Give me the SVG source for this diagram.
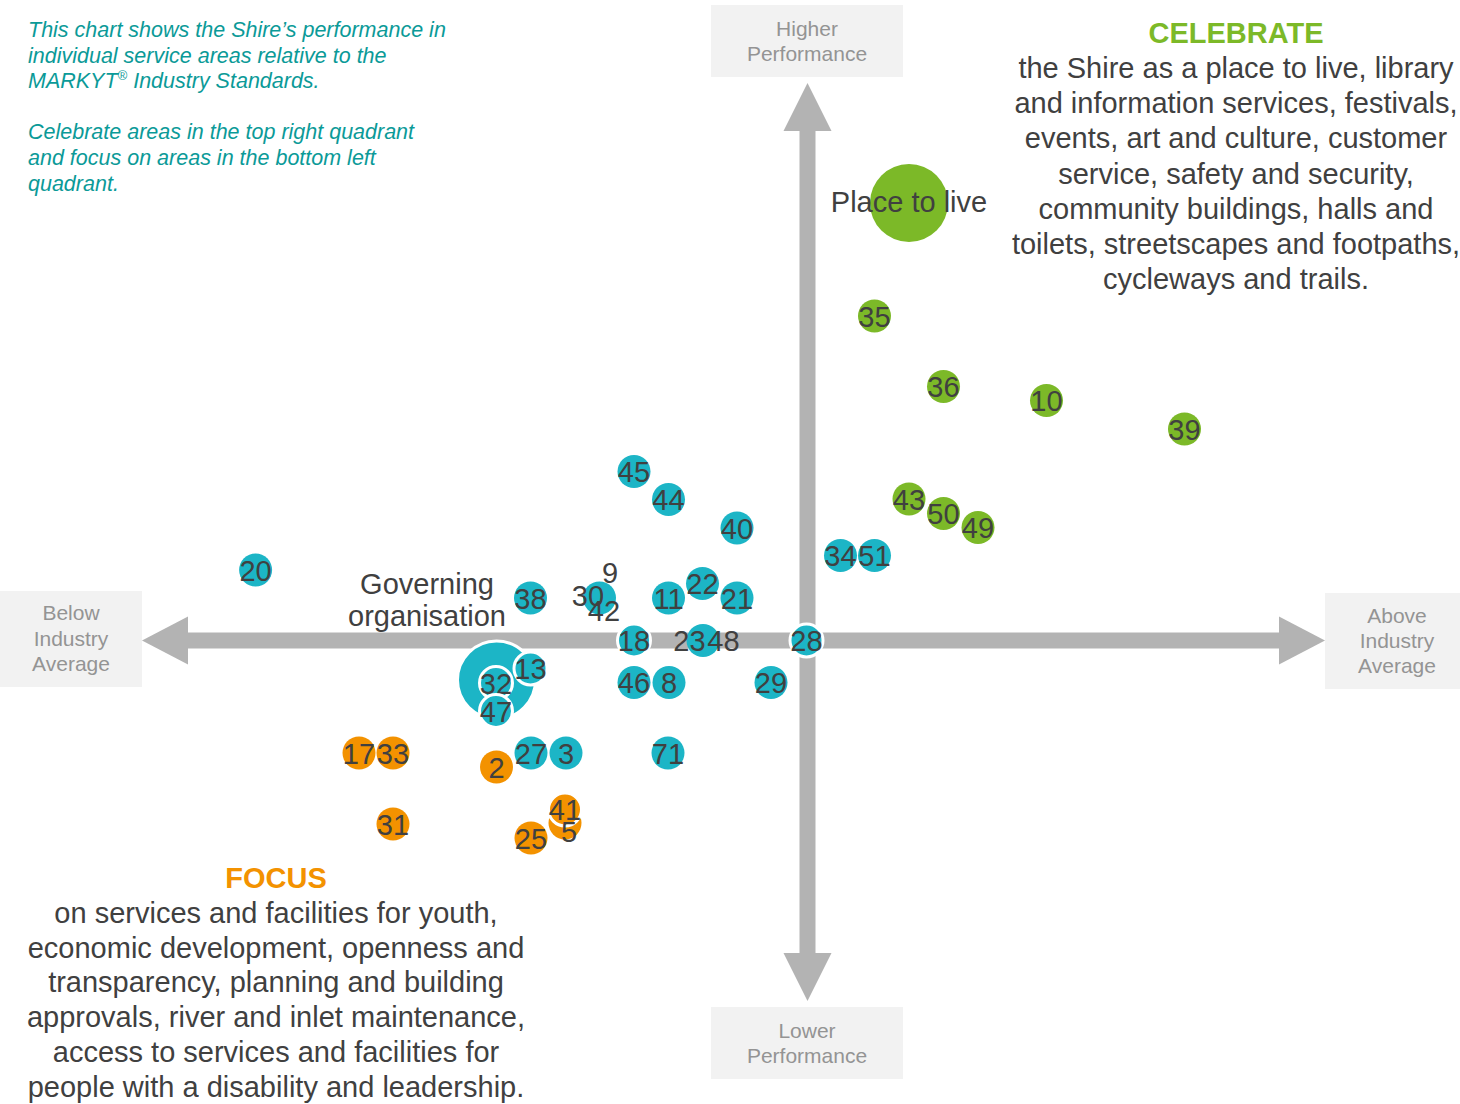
<svg xmlns="http://www.w3.org/2000/svg" width="1460" height="1104" viewBox="0 0 1460 1104">
<style>
text{font-family:"Liberation Sans",Arial,sans-serif}
.intro{font-size:21.5px;font-style:italic;fill:#0B9A98}
.box{fill:#F2F2F2}
.boxt{font-size:21px;fill:#949494;text-anchor:middle}
.ax{fill:#B3B3B3}
.b{fill:#1CB5C6}
.g{fill:#7CB928}
.o{fill:#F39200}
.w{stroke:#FFFFFF;stroke-width:3}
.n{font-size:29px;fill:#404040;text-anchor:middle}
.body{font-size:29px;fill:#404040;text-anchor:middle}
.hg{font-size:29px;font-weight:bold;fill:#7CB928;text-anchor:middle}
.ho{font-size:29px;font-weight:bold;fill:#F39200;text-anchor:middle}
</style>
<rect width="1460" height="1104" fill="#FFFFFF"/>
<g id="intro">
<text class="intro" x="28" y="37">This chart shows the Shire’s performance in</text>
<text class="intro" x="28" y="63">individual service areas relative to the</text>
<text class="intro" x="28" y="88">MARKYT<tspan font-size="13" dy="-8">®</tspan><tspan dy="8"> Industry Standards.</tspan></text>
<text class="intro" x="28" y="139">Celebrate areas in the top right quadrant</text>
<text class="intro" x="28" y="165">and focus on areas in the bottom left</text>
<text class="intro" x="28" y="191">quadrant.</text>
</g>
<g id="connectors">
<rect class="ax" x="799.5" y="130" width="16" height="824"/>
<rect class="ax" x="187" y="632.5" width="1093" height="16"/>
<polygon class="ax" points="807.5,83 831.5,131 783.5,131"/>
<polygon class="ax" points="807.5,1001 831.5,953 783.5,953"/>
<polygon class="ax" points="142,640.5 188,616.5 188,664.5"/>
<polygon class="ax" points="1325,640.5 1279,616.5 1279,664.5"/>
</g>
<g id="higher">
<rect class="box" x="711" y="5" width="192" height="72"/>
<text class="boxt" x="807" y="36">Higher</text>
<text class="boxt" x="807" y="61">Performance</text>
</g>
<g id="lower">
<rect class="box" x="711" y="1007" width="192" height="72"/>
<text class="boxt" x="807" y="1038">Lower</text>
<text class="boxt" x="807" y="1063">Performance</text>
</g>
<g id="below">
<rect class="box" x="0" y="591" width="142" height="96"/>
<text class="boxt" x="71" y="620">Below</text>
<text class="boxt" x="71" y="646">Industry</text>
<text class="boxt" x="71" y="671">Average</text>
</g>
<g id="above">
<rect class="box" x="1325" y="593" width="135" height="96"/>
<text class="boxt" x="1397" y="623">Above</text>
<text class="boxt" x="1397" y="648">Industry</text>
<text class="boxt" x="1397" y="673">Average</text>
</g>
<g id="celebrate">
<text class="hg" x="1236" y="43">CELEBRATE</text>
<text class="body" x="1236" y="78">the Shire as a place to live, library</text>
<text class="body" x="1236" y="113">and information services, festivals,</text>
<text class="body" x="1236" y="148">events, art and culture, customer</text>
<text class="body" x="1236" y="184">service, safety and security,</text>
<text class="body" x="1236" y="219">community buildings, halls and</text>
<text class="body" x="1236" y="254">toilets, streetscapes and footpaths,</text>
<text class="body" x="1236" y="289">cycleways and trails.</text>
</g>
<g id="focus">
<text class="ho" x="276" y="888">FOCUS</text>
<text class="body" x="276" y="923">on services and facilities for youth,</text>
<text class="body" x="276" y="958">economic development, openness and</text>
<text class="body" x="276" y="992">transparency, planning and building</text>
<text class="body" x="276" y="1027">approvals, river and inlet maintenance,</text>
<text class="body" x="276" y="1062">access to services and facilities for</text>
<text class="body" x="276" y="1097">people with a disability and leadership.</text>
</g>
<g id="place-to-live">
<circle class="g" cx="909" cy="203" r="39"/>
<text class="body" x="909" y="212">Place to live</text>
</g>
<g id="governing-organisation">
<circle class="b w" cx="496.5" cy="680" r="39"/>
<text class="body" x="427" y="594">Governing</text>
<text class="body" x="427" y="626">organisation</text>
</g>
<g id="points-green">
<g id="p35"><circle class="g" cx="874.5" cy="316" r="16.5"/><text class="n" x="874.5" y="326.5">35</text></g>
<g id="p36"><circle class="g" cx="943.5" cy="386.5" r="16.5"/><text class="n" x="943.5" y="397">36</text></g>
<g id="p10"><circle class="g" cx="1046.5" cy="400.5" r="16.5"/><text class="n" x="1046.5" y="411">10</text></g>
<g id="p39"><circle class="g" cx="1184.5" cy="429" r="16.5"/><text class="n" x="1184.5" y="439.5">39</text></g>
<g id="p43"><circle class="g" cx="909" cy="499" r="16.5"/><text class="n" x="909" y="509.5">43</text></g>
<g id="p50"><circle class="g" cx="943.5" cy="513.5" r="16.5"/><text class="n" x="943.5" y="524">50</text></g>
<g id="p49"><circle class="g" cx="978" cy="527.5" r="16.5"/><text class="n" x="978" y="538">49</text></g>
</g>
<g id="points-blue">
<g id="p20"><circle class="b" cx="255.6" cy="570" r="16.5"/><text class="n" x="255.6" y="580.5">20</text></g>
<g id="p38"><circle class="b" cx="530.5" cy="598" r="16.5"/><text class="n" x="530.5" y="608.5">38</text></g>
<g id="p30"><circle class="b" cx="599.5" cy="598" r="16.5"/><text class="n" x="588" y="606">30</text><text class="n" x="610" y="583">9</text><text class="n" x="604" y="621">42</text></g>
<g id="p45"><circle class="b" cx="634" cy="471.5" r="16.5"/><text class="n" x="634" y="482">45</text></g>
<g id="p44"><circle class="b" cx="668.5" cy="499.5" r="16.5"/><text class="n" x="668.5" y="510">44</text></g>
<g id="p40"><circle class="b" cx="737" cy="528" r="16.5"/><text class="n" x="737" y="538.5">40</text></g>
<g id="p34"><circle class="b" cx="840.5" cy="555.5" r="16.5"/><text class="n" x="840.5" y="566">34</text></g>
<g id="p51"><circle class="b" cx="874.5" cy="555.5" r="16.5"/><text class="n" x="874.5" y="566">51</text></g>
<g id="p11"><circle class="b" cx="668.5" cy="598" r="16.5"/><text class="n" x="668.5" y="608.5">11</text></g>
<g id="p22"><circle class="b" cx="702.5" cy="583.5" r="16.5"/><text class="n" x="702.5" y="594">22</text></g>
<g id="p21"><circle class="b" cx="737" cy="598" r="16.5"/><text class="n" x="737" y="608.5">21</text></g>
<g id="p18"><circle class="b w" cx="634" cy="640.5" r="16.5"/><text class="n" x="634" y="651">18</text></g>
<g id="p23"><circle class="b" cx="703" cy="640.5" r="16.5"/><text class="n" x="689.5" y="651">23</text><text class="n" x="723.5" y="651">48</text></g>
<g id="p28"><circle class="b w" cx="806.5" cy="640.5" r="16.5"/><text class="n" x="806.5" y="651">28</text></g>
<g id="p13"><circle class="b w" cx="530.5" cy="668.5" r="16.5"/><text class="n" x="530.5" y="679">13</text></g>
<g id="p32"><circle class="b w" cx="496" cy="683" r="16.5"/><text class="n" x="496" y="693.5">32</text></g>
<g id="p47"><circle class="b w" cx="496" cy="711" r="16.5"/><text class="n" x="496" y="721.5">47</text></g>
<g id="p46"><circle class="b" cx="634" cy="682.5" r="16.5"/><text class="n" x="634" y="693">46</text></g>
<g id="p8"><circle class="b" cx="669" cy="682.5" r="16.5"/><text class="n" x="669" y="693">8</text></g>
<g id="p29"><circle class="b" cx="771" cy="682.5" r="16.5"/><text class="n" x="771" y="693">29</text></g>
<g id="p27"><circle class="b" cx="531" cy="753" r="16.5"/><text class="n" x="531" y="763.5">27</text></g>
<g id="p3"><circle class="b" cx="566" cy="753" r="16.5"/><text class="n" x="566" y="763.5">3</text></g>
<g id="p71"><circle class="b" cx="668" cy="753" r="16.5"/><text class="n" x="668" y="763.5">71</text></g>
</g>
<g id="points-orange">
<g id="p17"><circle class="o" cx="359" cy="753" r="16.5"/><text class="n" x="359" y="763.5">17</text></g>
<g id="p33"><circle class="o" cx="393" cy="753" r="16.5"/><text class="n" x="393" y="763.5">33</text></g>
<g id="p2"><circle class="o" cx="496.5" cy="767" r="16.5"/><text class="n" x="496.5" y="777.5">2</text></g>
<g id="p31"><circle class="o" cx="393" cy="824" r="16.5"/><text class="n" x="393" y="834.5">31</text></g>
<g id="p5"><circle class="o" cx="565" cy="823" r="16.5"/></g>
<g id="p41"><circle class="o w" cx="565" cy="809.5" r="16.5"/><text class="n" x="565" y="820">41</text></g>
<text class="n" x="569" y="842">5</text>
<g id="p25"><circle class="o" cx="531" cy="838" r="16.5"/><text class="n" x="531" y="848.5">25</text></g>
</g>
</svg>
